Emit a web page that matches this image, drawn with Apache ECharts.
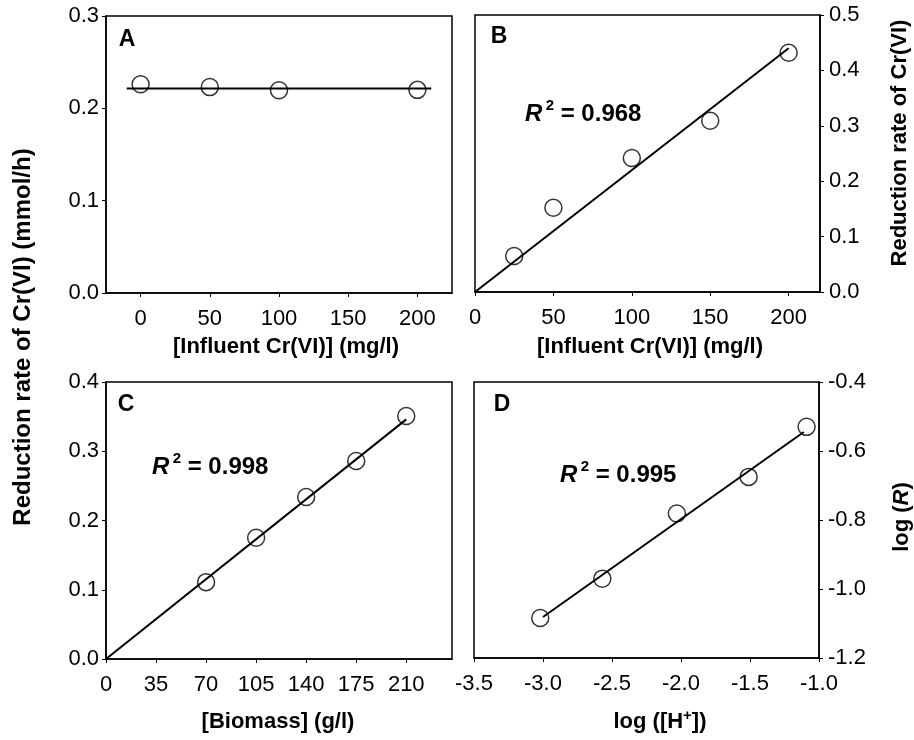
<!DOCTYPE html>
<html>
<head>
<meta charset="utf-8">
<title>Cr(VI) reduction rate</title>
<script src="https://cdn.jsdelivr.net/npm/echarts@6.0.0/dist/echarts.min.js"></script>
<style>
  html, body { margin: 0; padding: 0; background: #fff; }
  #main { width: 914px; height: 740px; }
</style>
</head>
<body>
<div id="main"></div>
<script>
// A: rate vs influent Cr(VI)
var aX = [0, 50, 100, 200];
var aY = [0.226, 0.223, 0.2195, 0.220];
var aFitX = [-10, 210];
var aFitY = [0.2216, 0.2216];
// B: rate vs influent Cr(VI)
var bX = [25, 50, 100, 150, 200];
var bY = [0.065, 0.152, 0.242, 0.309, 0.432];
var bFitX = [0, 200];
var bFitY = [0, 0.44];
// C: rate vs biomass
var cX = [70, 105, 140, 175, 210];
var cY = [0.111, 0.175, 0.234, 0.286, 0.351];
var cFitX = [0, 210];
var cFitY = [0, 0.346];
// D: log(R) vs log([H+])
var dX = [-3.02, -2.57, -2.03, -1.51, -1.09];
var dY = [-1.084, -0.970, -0.781, -0.675, -0.530];
var dFitX = [-3.0, -1.11];
var dFitY = [-1.081, -0.545];

var xTicksA = [0, 50, 100, 150, 200];
var xTicksB = [0, 50, 100, 150, 200];
var xTicksC = [0, 35, 70, 105, 140, 175, 210];
var r2Labels = ['0.968', '0.998', '0.995'];

var FONT = 'Liberation Sans, Arial, sans-serif';
var TICK_SIZE = 22;
var chart = echarts.init(document.getElementById('main'));

function pairs(xs, ys) {
  return xs.map(function (x, i) { return [x, ys[i]]; });
}

function xAxisOf(idx, min, max, ticks, digits) {
  var ax = {
    type: 'value', gridIndex: idx, min: min, max: max,
    axisLine: { show: true, onZero: false, lineStyle: { color: '#000', width: 1.5 } },
    axisTick: { show: true, inside: false, length: 4, lineStyle: { color: '#000', width: 1 } },
    axisLabel: { color: '#000', fontSize: TICK_SIZE, fontFamily: FONT, margin: 15,
      formatter: function (v) { return v.toFixed(digits); } },
    splitLine: { show: false }
  };
  if (ticks) {
    ax.axisTick.customValues = ticks;
    ax.axisLabel.customValues = ticks;
  } else {
    ax.interval = 0.5;
  }
  return ax;
}

function yAxisOf(idx, min, max, interval, pos) {
  return {
    type: 'value', gridIndex: idx, min: min, max: max, interval: interval, position: pos,
    axisLine: { show: true, onZero: false, lineStyle: { color: '#000', width: 1.5 } },
    axisTick: { show: true, inside: false, length: 4, lineStyle: { color: '#000', width: 1 } },
    axisLabel: { color: '#000', fontSize: TICK_SIZE, fontFamily: FONT, margin: pos === 'right' ? 9 : 7,
      formatter: function (v) { return v.toFixed(1); } },
    splitLine: { show: false }
  };
}

function fitLine(idx, xs, ys) {
  return {
    type: 'line', xAxisIndex: idx, yAxisIndex: idx, data: pairs(xs, ys),
    showSymbol: false, symbol: 'none', silent: true,
    lineStyle: { color: '#000', width: 2 }, z: 2
  };
}

function points(idx, xs, ys) {
  return {
    type: 'scatter', xAxisIndex: idx, yAxisIndex: idx, data: pairs(xs, ys),
    symbol: 'circle', symbolSize: 17,
    itemStyle: { color: 'rgba(0,0,0,0)', borderColor: '#000', borderWidth: 1.5 }, z: 3
  };
}

function txt(x, y, text, size, extra) {
  var el = {
    type: 'text', x: x, y: y,
    style: { text: text, fill: '#000', font: 'bold ' + size + 'px ' + FONT,
      align: 'center', verticalAlign: 'middle' }
  };
  if (extra) {
    for (var k in extra) el[k] = extra[k];
  }
  return el;
}

var r2Rich = {
  i: { fontSize: 24, fontWeight: 'bold', fontStyle: 'italic', fontFamily: FONT, lineHeight: 32 },
  sup: { fontSize: 15, fontWeight: 'bold', fontFamily: FONT, verticalAlign: 'top', lineHeight: 32 },
  n: { fontSize: 24, fontWeight: 'bold', fontFamily: FONT, lineHeight: 32 }
};

function r2(x, y, val) {
  return {
    type: 'text', x: x, y: y,
    style: { text: '{i|R} {sup|2}{n| = ' + val + '}', fill: '#000', rich: r2Rich,
      align: 'left', verticalAlign: 'middle' }
  };
}

var option = {
  animation: false,
  backgroundColor: '#fff',
  grid: [
    { left: 106, top: 16, width: 346, height: 277 },
    { left: 475, top: 15, width: 345, height: 277 },
    { left: 106, top: 382, width: 346, height: 277 },
    { left: 474, top: 382, width: 345, height: 276 }
  ].map(function (g) {
    g.show = true; g.borderColor = '#000'; g.borderWidth = 1.5; g.backgroundColor = 'transparent';
    return g;
  }),
  xAxis: [
    xAxisOf(0, -25, 225, xTicksA, 0),
    xAxisOf(1, 0, 220, xTicksB, 0),
    xAxisOf(2, 0, 242, xTicksC, 0),
    xAxisOf(3, -3.5, -1.0, null, 1)
  ],
  yAxis: [
    yAxisOf(0, 0, 0.3, 0.1, 'left'),
    yAxisOf(1, 0, 0.5, 0.1, 'right'),
    yAxisOf(2, 0, 0.4, 0.1, 'left'),
    yAxisOf(3, -1.2, -0.4, 0.2, 'right')
  ],
  series: [
    fitLine(0, aFitX, aFitY), points(0, aX, aY),
    fitLine(1, bFitX, bFitY), points(1, bX, bY),
    fitLine(2, cFitX, cFitY), points(2, cX, cY),
    fitLine(3, dFitX, dFitY), points(3, dX, dY)
  ],
  graphic: [
    // panel letters
    txt(127, 40, 'A', 23), txt(499, 37, 'B', 23),
    txt(126, 405, 'C', 23), txt(502, 405, 'D', 23),
    // R^2 labels
    r2(525, 114, r2Labels[0]), r2(152, 467, r2Labels[1]), r2(560, 475, r2Labels[2]),
    // x axis titles
    txt(286, 347, '[Influent Cr(VI)] (mg/l)', 22),
    txt(650, 347, '[Influent Cr(VI)] (mg/l)', 22),
    txt(278, 722, '[Biomass] (g/l)', 22),
    {
      type: 'text', x: 660, y: 722,
      style: { text: '{n|log ([H}{sup|+}{n|])}', fill: '#000', align: 'center', verticalAlign: 'middle',
        rich: {
          n: { fontSize: 22, fontWeight: 'bold', fontFamily: FONT, lineHeight: 28 },
          sup: { fontSize: 15, fontWeight: 'bold', fontFamily: FONT, verticalAlign: 'top', lineHeight: 28 }
        } }
    },
    // y axis titles
    txt(23, 337, 'Reduction rate of Cr(VI) (mmol/h)', 24, { rotation: Math.PI / 2 }),
    txt(900, 143, 'Reduction rate of Cr(VI)', 22, { rotation: Math.PI / 2 }),
    {
      type: 'text', x: 902, y: 517, rotation: Math.PI / 2,
      style: { text: '{n|log (}{i|R}{n|)}', fill: '#000', align: 'center', verticalAlign: 'middle',
        rich: {
          n: { fontSize: 22, fontWeight: 'bold', fontFamily: FONT },
          i: { fontSize: 22, fontWeight: 'bold', fontStyle: 'italic', fontFamily: FONT }
        } }
    }
  ]
};

chart.setOption(option);
</script>
</body>
</html>
